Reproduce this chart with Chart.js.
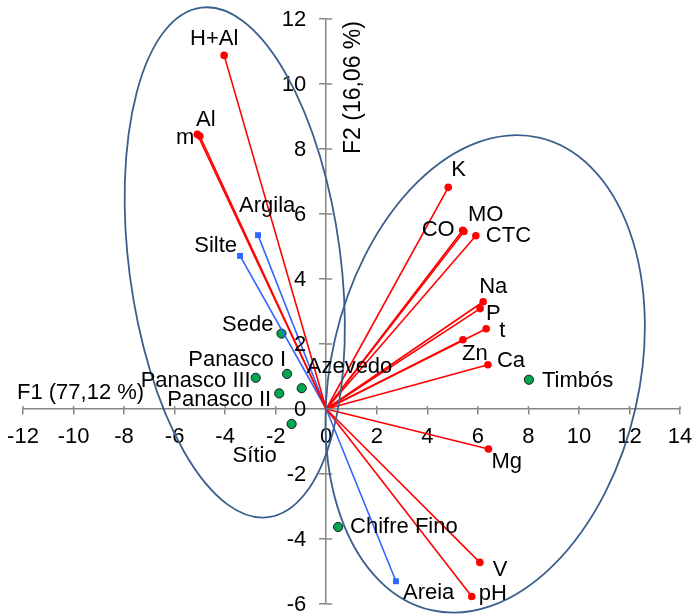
<!DOCTYPE html>
<html>
<head>
<meta charset="utf-8">
<script src="https://cdn.jsdelivr.net/npm/chart.js@4.4.1/dist/chart.umd.min.js"></script>
<style>
  html, body { margin: 0; padding: 0; background: #fff; }
  #wrap { width: 693px; height: 616px; }
</style>
</head>
<body>
<div id="wrap"><canvas id="pca"></canvas></div>
<script>
// soil variables (red vectors)
const varNames = ["H+Al", "Al", "m", "K", "CO", "MO", "CTC", "Na", "P", "t", "Zn", "Ca", "Mg", "V", "pH"];
const varX = [-4.04, -5.00, -5.10, 4.83, 5.40, 5.45, 5.92, 6.21, 6.09, 6.33, 5.41, 6.40, 6.42, 6.08, 5.76];
const varY = [10.88, 8.40, 8.45, 6.82, 5.50, 5.46, 5.33, 3.30, 3.09, 2.47, 2.13, 1.36, -1.23, -4.72, -5.77];

// texture variables (blue vectors)
const texNames = ["Argila", "Silte", "Areia"];
const texX = [-2.70, -3.41, 2.76];
const texY = [5.35, 4.71, -5.30];

// sites (green points)
const siteNames = ["Sede", "Panasco I", "Panasco III", "Azevedo", "Panasco II", "Sítio", "Chifre Fino", "Timbós"];
const siteX = [-1.77, -1.55, -2.79, -0.97, -1.86, -1.37, 0.47, 8.02];
const siteY = [2.32, 1.08, 0.96, 0.64, 0.48, -0.46, -3.63, 0.90];

// axes
const xTitle = "F1 (77,12 %)";
const yTitle = "F2 (16,06 %)";

// group ellipses: centre, half axis u, half axis v (in F1/F2 units)
const ellipseCentres = [[-3.62, 4.51], [6.29, 1.08]];
const ellipseU = [[-1.33, 7.84], [2.13, 7.27]];
const ellipseV = [[4.15, 0.42], [5.95, -1.05]];

// label placement in pixels: [dx, dy, align]
const varLabelPos = [[-10, -10, "center"], [6, -10, "center"], [-3, 10, "right"], [3, -11, "left"],
  [-8, 6, "right"], [4, -11, "left"], [10, 6, "left"], [-4, -9, "left"], [6, 11, "left"],
  [13, 8, "left"], [-1, 20, "left"], [9, 2, "left"], [3, 19, "left"], [13, 14, "left"], [7, 3, "left"]];
const texLabelPos = [[-19, -23, "left"], [-3, -4, "right"], [7, 18, "left"]];
const siteLabelPos = [[-8, -3, "right"], [-1, -8, "right"], [-5, 9, "right"], [5, -15, "left"],
  [-8, 13, "right"], [-15, 38, "right"], [12, 6, "left"], [13, 7, "left"]];

const FAMILY = "'Liberation Sans', Arial, sans-serif";
const FONT = "22px " + FAMILY;
const AXIS_GREY = "#868686";

const datasets = [];
for (let i = 0; i < varNames.length; i++) {
    datasets.push({
        label: varNames[i],
        data: [{x: 0, y: 0}, {x: varX[i], y: varY[i]}],
        showLine: true,
        borderColor: "#ff0000",
        backgroundColor: "#ff0000",
        borderWidth: 1.6,
        pointRadius: [0, 3.8],
        pointBorderWidth: 0
    });
}
for (let i = 0; i < texNames.length; i++) {
    datasets.push({
        label: texNames[i],
        data: [{x: 0, y: 0}, {x: texX[i], y: texY[i]}],
        showLine: true,
        borderColor: "#3366ff",
        backgroundColor: "#3366ff",
        borderWidth: 1.6,
        pointStyle: "rect",
        pointRadius: [0, 4.2],
        pointBorderWidth: 0
    });
}
const sitePoints = [];
for (let i = 0; i < siteNames.length; i++) {
    sitePoints.push({x: siteX[i], y: siteY[i]});
}
datasets.push({
    label: "Sites",
    data: sitePoints,
    showLine: false,
    backgroundColor: "#00a651",
    borderColor: "#1a1a1a",
    borderWidth: 1,
    pointRadius: 4.6
});

// centred axes keep no extra room round the plot
function noPadding(scale) {
    scale.paddingLeft = 0;
    scale.paddingRight = 0;
    scale.paddingTop = 0;
    scale.paddingBottom = 0;
}

const extras = {
    id: "extras",
    afterDatasetsDraw(chart) {
        const ctx = chart.ctx;
        const xs = chart.scales.x, ys = chart.scales.y;
        const x0 = xs.getPixelForValue(0), y0 = ys.getPixelForValue(0);

        // inner half of the tick marks
        ctx.save();
        ctx.strokeStyle = AXIS_GREY;
        ctx.lineWidth = 1.5;
        ctx.beginPath();
        xs.ticks.forEach(t => {
            const px = xs.getPixelForValue(t.value);
            ctx.moveTo(px, y0 - 3);
            ctx.lineTo(px, y0);
        });
        ys.ticks.forEach(t => {
            const py = ys.getPixelForValue(t.value);
            ctx.moveTo(x0, py);
            ctx.lineTo(x0 + 6, py);
        });
        ctx.stroke();

        // y tick labels, left of the axis
        ctx.fillStyle = "#000";
        ctx.font = FONT;
        ctx.textAlign = "right";
        ctx.textBaseline = "middle";
        ys.ticks.forEach(t => {
            ctx.fillText(t.label, x0 - 20, ys.getPixelForValue(t.value) + 1);
        });

        // ellipses
        ctx.strokeStyle = "#3b5f8c";
        ctx.lineWidth = 1.8;
        for (let e = 0; e < ellipseCentres.length; e++) {
            const c = ellipseCentres[e], u = ellipseU[e], v = ellipseV[e];
            const cx = xs.getPixelForValue(c[0]), cy = ys.getPixelForValue(c[1]);
            const ux = xs.getPixelForValue(c[0] + u[0]) - cx, uy = ys.getPixelForValue(c[1] + u[1]) - cy;
            const vx = xs.getPixelForValue(c[0] + v[0]) - cx, vy = ys.getPixelForValue(c[1] + v[1]) - cy;
            ctx.save();
            ctx.beginPath();
            ctx.transform(vx, vy, ux, uy, cx, cy);
            ctx.arc(0, 0, 1, 0, 2 * Math.PI);
            ctx.restore();
            ctx.stroke();
        }

        // point labels
        ctx.textBaseline = "alphabetic";
        const put = (text, pos, px, py) => {
            ctx.textAlign = pos[2];
            ctx.fillText(text, px + pos[0], py + pos[1]);
        };
        for (let i = 0; i < varNames.length; i++) {
            put(varNames[i], varLabelPos[i], xs.getPixelForValue(varX[i]), ys.getPixelForValue(varY[i]));
        }
        for (let i = 0; i < texNames.length; i++) {
            put(texNames[i], texLabelPos[i], xs.getPixelForValue(texX[i]), ys.getPixelForValue(texY[i]));
        }
        for (let i = 0; i < siteNames.length; i++) {
            put(siteNames[i], siteLabelPos[i], xs.getPixelForValue(siteX[i]), ys.getPixelForValue(siteY[i]));
        }

        // axis titles
        ctx.textAlign = "left";
        ctx.fillText(xTitle, chart.chartArea.left - 6, y0 - 10);
        ctx.font = "23px " + FAMILY;
        ctx.translate(x0 + 34, chart.chartArea.top + 135);
        ctx.rotate(-Math.PI / 2);
        ctx.fillText(yTitle, 0, 0);
        ctx.restore();
    }
};

new Chart(document.getElementById("pca"), {
    type: "scatter",
    data: { datasets: datasets },
    plugins: [extras],
    options: {
        responsive: true,
        maintainAspectRatio: false,
        animation: false,
        layout: { padding: { left: 23, right: 13, top: 19, bottom: 12 } },
        plugins: {
            legend: { display: false },
            tooltip: { enabled: false }
        },
        scales: {
            x: {
                type: "linear",
                min: -12,
                max: 14,
                position: { y: 0 },
                afterFit: noPadding,
                ticks: { stepSize: 2, color: "#000", font: { size: 22, family: FAMILY }, padding: 10, maxRotation: 0, autoSkip: false },
                grid: { drawOnChartArea: false, color: AXIS_GREY, lineWidth: 1.5, tickLength: 5 },
                border: { color: AXIS_GREY, width: 1.5 }
            },
            y: {
                type: "linear",
                min: -6,
                max: 12,
                position: { x: 0 },
                afterFit: noPadding,
                ticks: { stepSize: 2, display: false, autoSkip: false },
                grid: { drawOnChartArea: false, color: AXIS_GREY, lineWidth: 1.5, tickLength: 6 },
                border: { color: AXIS_GREY, width: 1.5 }
            }
        }
    }
});
</script>
</body>
</html>
